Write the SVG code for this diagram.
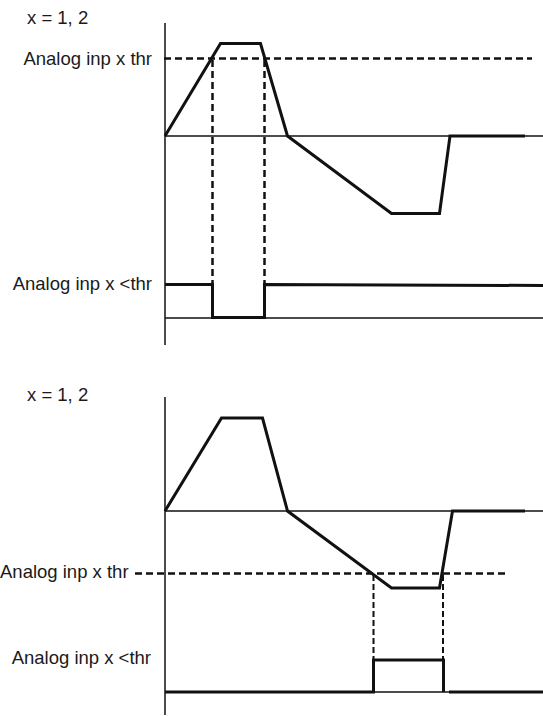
<svg xmlns="http://www.w3.org/2000/svg" width="543" height="716" viewBox="0 0 543 716">
<style>
text{font-family:"Liberation Sans",Arial,sans-serif;font-size:18.5px;fill:#1a1a1a}
.ax{stroke:#111;stroke-width:1.5;fill:none}
.sig{stroke:#111;stroke-width:3;fill:none;stroke-linejoin:miter}
.dh{stroke:#111;stroke-width:2.6;stroke-dasharray:7 4;fill:none}
.dv{stroke:#111;stroke-width:2.5;stroke-dasharray:7 4;fill:none}
.dv2{stroke:#111;stroke-width:2;stroke-dasharray:6 3;fill:none}
</style>
<rect width="543" height="716" fill="#fff"/>
<g id="top-chart">
<text x="27" y="24">x = 1, 2</text>
<text x="152" y="65" text-anchor="end">Analog inp x thr</text>
<text x="152" y="290" text-anchor="end">Analog inp x &lt;thr</text>
<line class="ax" x1="165" y1="23" x2="165" y2="345"/>
<line class="ax" x1="165" y1="136" x2="543" y2="136"/>
<line class="ax" x1="165" y1="318" x2="543" y2="318"/>
<line class="dh" x1="164" y1="58.5" x2="532" y2="58.5"/>
<line class="dv" x1="212.5" y1="60" x2="212.5" y2="284"/>
<line class="dv" x1="264.5" y1="60" x2="264.5" y2="284"/>
<polyline class="sig" points="165,136 220.5,43.5 260.5,43.5 287.5,136 391.5,213.5 439.5,213.5 450,136 525,136"/>
<polyline class="sig" points="165,284.5 212.5,284.5 212.5,317.5 264.5,317.5 264.5,284.5 543,285.5"/>
</g>
<g id="bottom-chart">
<text x="27" y="401">x = 1, 2</text>
<text x="0" y="578">Analog inp x thr</text>
<text x="151" y="664" text-anchor="end">Analog inp x &lt;thr</text>
<line class="ax" x1="165" y1="397" x2="165" y2="715"/>
<line class="ax" x1="165" y1="511" x2="543" y2="511"/>
<line class="ax" x1="373" y1="692" x2="449" y2="692"/>
<line class="dh" x1="135" y1="573.5" x2="506" y2="573.5"/>
<line class="dv2" x1="373.5" y1="575" x2="373.5" y2="660"/>
<line class="dv2" x1="443" y1="575" x2="443" y2="660"/>
<polyline class="sig" points="165,511 221.5,418 262.5,418 287.5,511 391.5,588 439.5,588 452.5,511 525,511"/>
<polyline class="sig" points="165,692 373.5,692 373.5,660 443.5,660 443.5,692"/>
<line class="sig" x1="449" y1="692" x2="543" y2="692"/>
</g>
</svg>
